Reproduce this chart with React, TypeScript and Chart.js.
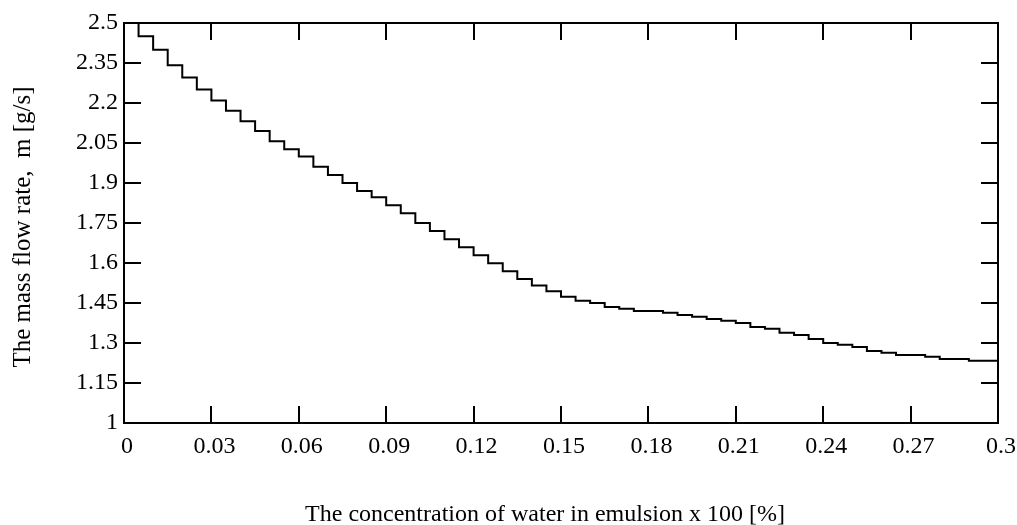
import React, { useEffect, useRef } from "react";
import { Chart, registerables } from "chart.js";

Chart.register(...registerables);

// step start positions (concentration) and the mass-flow value held over each step
const stepStarts: number[] = [
  0, 0.005, 0.01, 0.015, 0.02, 0.025, 0.03, 0.035, 0.04, 0.045,
  0.05, 0.055, 0.06, 0.065, 0.07, 0.075, 0.08, 0.085, 0.09, 0.095,
  0.1, 0.105, 0.11, 0.115, 0.12, 0.125, 0.13, 0.135, 0.14, 0.145,
  0.15, 0.155, 0.16, 0.165, 0.17, 0.175, 0.18, 0.185, 0.19, 0.195,
  0.2, 0.205, 0.21, 0.215, 0.22, 0.225, 0.23, 0.235, 0.24, 0.245,
  0.25, 0.255, 0.26, 0.265, 0.27, 0.275, 0.28, 0.285, 0.29, 0.295, 0.3,
];
const massFlow: number[] = [
  2.5, 2.45, 2.4, 2.342, 2.296, 2.251, 2.209, 2.171, 2.132, 2.095,
  2.057, 2.027, 1.999, 1.961, 1.93, 1.9, 1.87, 1.847, 1.817, 1.787,
  1.75, 1.72, 1.689, 1.659, 1.629, 1.599, 1.569, 1.54, 1.516, 1.494,
  1.473, 1.458, 1.45, 1.435, 1.428, 1.42, 1.42, 1.413, 1.405, 1.398,
  1.39, 1.383, 1.375, 1.36, 1.353, 1.338, 1.33, 1.315, 1.3, 1.293,
  1.285, 1.27, 1.263, 1.255, 1.255, 1.248, 1.24, 1.24, 1.233, 1.233, 1.233,
];

const xTickValues: number[] = [0, 0.03, 0.06, 0.09, 0.12, 0.15, 0.18, 0.21, 0.24, 0.27, 0.3];
const xTickLabels: string[] = ["0", "0.03", "0.06", "0.09", "0.12", "0.15", "0.18", "0.21", "0.24", "0.27", "0.3"];
const yTickValues: number[] = [1, 1.15, 1.3, 1.45, 1.6, 1.75, 1.9, 2.05, 2.2, 2.35, 2.5];
const yTickLabels: string[] = ["1", "1.15", "1.3", "1.45", "1.6", "1.75", "1.9", "2.05", "2.2", "2.35", "2.5"];

const xTitle = "The concentration of water in emulsion x 100 [%]";
const yTitle = "The mass flow rate,  m [g/s]";

const FONT = "'Liberation Serif', 'Times New Roman', serif";

const frameTicks = {
  id: "frameTicks",
  afterDatasetsDraw(chart: any) {
    const { ctx, chartArea, scales } = chart;
    const { left, right, top, bottom } = chartArea;
    const len = 17;
    ctx.save();
    ctx.strokeStyle = "#000";
    ctx.lineWidth = 2;
    ctx.beginPath();
    ctx.rect(left, top, right - left, bottom - top);
    ctx.stroke();
    ctx.beginPath();
    scales.x.ticks.forEach((t: any) => {
      const px = Math.round(scales.x.getPixelForValue(t.value));
      ctx.moveTo(px, bottom);
      ctx.lineTo(px, bottom - len);
      ctx.moveTo(px, top);
      ctx.lineTo(px, top + len);
    });
    scales.y.ticks.forEach((t: any) => {
      const py = Math.round(scales.y.getPixelForValue(t.value));
      ctx.moveTo(left, py);
      ctx.lineTo(left + len, py);
      ctx.moveTo(right, py);
      ctx.lineTo(right - len, py);
    });
    ctx.stroke();
    // axis titles
    ctx.fillStyle = "#000";
    ctx.font = `24px ${FONT}`;
    ctx.textAlign = "center";
    ctx.textBaseline = "alphabetic";
    ctx.fillText(xTitle, 545, 521);
    ctx.save();
    ctx.translate(30, 227);
    ctx.rotate(-Math.PI / 2);
    ctx.font = `25px ${FONT}`;
    ctx.fillText(yTitle, 0, 0);
    ctx.restore();
    ctx.restore();
  },
};

export default function App() {
  const ref = useRef<HTMLCanvasElement | null>(null);
  useEffect(() => {
    if (!ref.current) return;
    const points = stepStarts.map((x, i) => ({ x, y: massFlow[i] }));
    const chart = new Chart(ref.current, {
      type: "line",
      data: {
        datasets: [
          {
            data: points,
            borderColor: "#000",
            borderWidth: 2,
            pointRadius: 0,
            stepped: "before",
            fill: false,
            clip: false as any,
          },
        ],
      },
      options: {
        animation: false,
        responsive: true,
        maintainAspectRatio: false,
        layout: { padding: { top: 23, right: 19, left: 0, bottom: 0 } },
        plugins: { legend: { display: false }, tooltip: { enabled: false } },
        scales: {
          x: {
            type: "linear",
            min: 0,
            max: 0.3,
            afterBuildTicks: (scale: any) => {
              scale.ticks = xTickValues.map((v) => ({ value: v }));
            },
            afterFit: (scale: any) => {
              scale.height = 102;
              scale.paddingLeft = 0;
              scale.paddingRight = 0;
            },
            grid: { display: false, drawTicks: false },
            border: { display: false },
            ticks: {
              color: "#000",
              font: { family: FONT, size: 24 },
              padding: 9,
              labelOffset: 3,
              maxRotation: 0,
              autoSkip: false,
              callback: (v: any) => {
                const i = xTickValues.findIndex((t) => Math.abs(t - Number(v)) < 1e-9);
                return i >= 0 ? xTickLabels[i] : "";
              },
            },
          },
          y: {
            type: "linear",
            min: 1,
            max: 2.5,
            afterBuildTicks: (scale: any) => {
              scale.ticks = yTickValues.map((v) => ({ value: v }));
            },
            afterFit: (scale: any) => {
              scale.width = 124;
              scale.paddingTop = 0;
              scale.paddingBottom = 0;
            },
            grid: { display: false, drawTicks: false },
            border: { display: false },
            ticks: {
              color: "#000",
              font: { family: FONT, size: 24 },
              padding: 6,
              autoSkip: false,
              callback: (v: any) => {
                const i = yTickValues.findIndex((t) => Math.abs(t - Number(v)) < 1e-9);
                return i >= 0 ? yTickLabels[i] : "";
              },
            },
          },
        },
      },
      plugins: [frameTicks],
    });
    return () => chart.destroy();
  }, []);
  return (
    <div style={{ position: "absolute", left: 0, top: 0, width: 1017, height: 525, background: "#fff" }}>
      <canvas ref={ref} />
    </div>
  );
}
